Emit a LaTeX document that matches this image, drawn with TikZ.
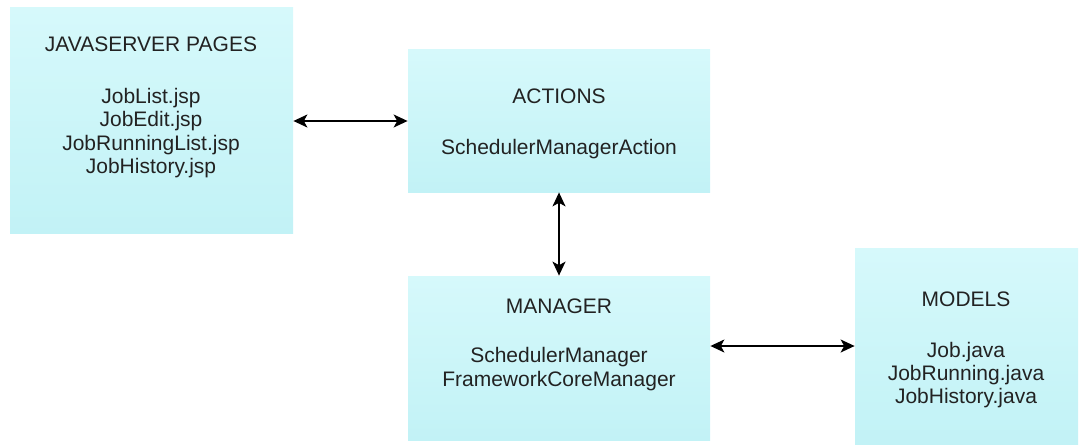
\documentclass[tikz,border=0pt]{standalone}
\usepackage{fontspec}
\setmainfont{Liberation Sans}
\usetikzlibrary{arrows.meta,fit}
\definecolor{boxtop}{HTML}{D6F9FB}
\definecolor{boxbot}{HTML}{C2F2F6}
\definecolor{ink}{HTML}{222222}
\begin{document}
\begin{tikzpicture}[x=0.5pt,y=-0.5pt,
  box/.style={draw=none, inner sep=0pt, top color=boxtop, bottom color=boxbot},
  title/.style={text=ink, font=\fontsize{10.5pt}{11.7pt}\selectfont, inner sep=0pt},
  body/.style={text=ink, font=\fontsize{10.5pt}{11.7pt}\selectfont, align=center, inner sep=0pt},
  conn/.style={draw=black, line width=0.75pt, {Stealth[length=7pt,width=6.5pt,inset=1.8pt]}-{Stealth[length=7pt,width=6.5pt,inset=1.8pt]}}]
\useasboundingbox (0,0) rectangle (1085,444);

% layer boxes
\node[box, fit={(10,8)(293,233)}] (jsp) {};
\node[box, fit={(408,50)(710,192)}] (act) {};
\node[box, fit={(408,276)(710,440)}] (mgr) {};
\node[box, fit={(855,248)(1078,444)}] (mod) {};

% box contents
\node[title] (jspT) at (151,44) {JAVASERVER PAGES};
\node[body] (jspB) at (151,133) {JobList.jsp\\JobEdit.jsp\\JobRunningList.jsp\\JobHistory.jsp};
\node[title] (actT) at (559,96) {ACTIONS};
\node[body] (actB) at (559,149) {SchedulerManagerAction};
\node[title] (mgrT) at (559,306) {MANAGER};
\node[body] (mgrB) at (559,369) {SchedulerManager\\FrameworkCoreManager};
\node[title] (modT) at (966,299) {MODELS};
\node[body] (modB) at (966,375) {Job.java\\JobRunning.java\\JobHistory.java};

% connectors
\draw[conn] (act.west -| jsp.east) -- (act.west);
\draw[conn] (act.south) -- (mgr.north);
\draw[conn] (mod.west -| mgr.east) -- (mod.west);
\end{tikzpicture}
\end{document}
